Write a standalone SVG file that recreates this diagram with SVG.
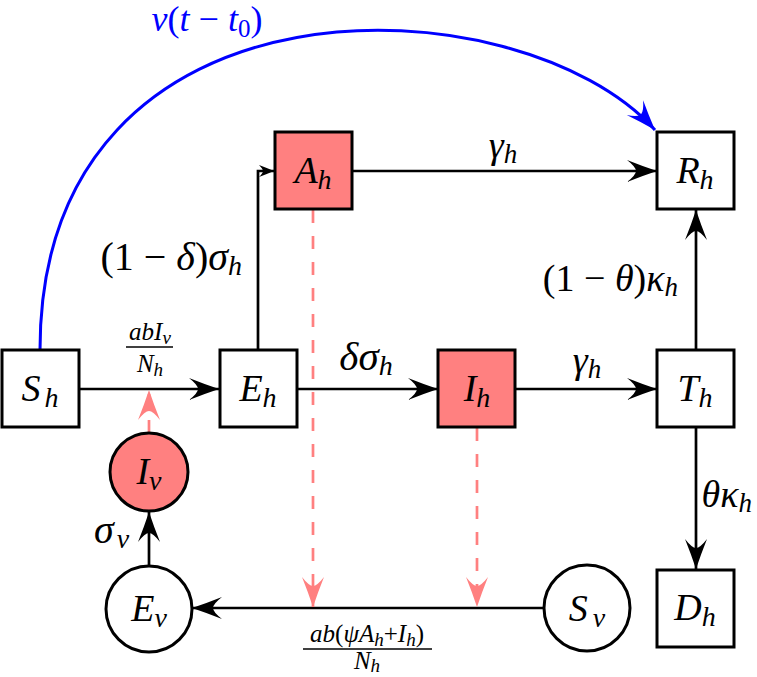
<svg xmlns="http://www.w3.org/2000/svg" width="757" height="677" viewBox="0 0 757 677" font-family="'Liberation Serif','Times New Roman',serif">
<style>
.box{fill:#fff;stroke:#000;stroke-width:3}
.inf{fill:#FF8080}
text{font-family:'Liberation Serif','Times New Roman',serif;font-style:italic}
.t{font-size:38px;fill:#000}
.l{font-size:38px;fill:#000}
.f{font-size:25px;fill:#000}
.u{font-style:normal}
.e{fill:none;stroke:#000;stroke-width:2.7}
.d{fill:none;stroke:#FF8080;stroke-width:2.7;stroke-dasharray:13 13}
.b{fill:none;stroke:#0000FF;stroke-width:3}
</style>
<defs>
<marker id="ak" markerUnits="userSpaceOnUse" markerWidth="32" markerHeight="24" refX="30" refY="11" orient="auto" overflow="visible">
<path d="M30,11 Q15,6 0,0 Q9,7 9,11 Q9,15 0,22 Q15,16 30,11 Z" fill="#000"/>
</marker>
<marker id="ap" markerUnits="userSpaceOnUse" markerWidth="32" markerHeight="24" refX="30" refY="11" orient="auto" overflow="visible">
<path d="M30,11 Q15,6 0,0 Q9,7 9,11 Q9,15 0,22 Q15,16 30,11 Z" fill="#FF8080"/>
</marker>
<marker id="ab" markerUnits="userSpaceOnUse" markerWidth="32" markerHeight="24" refX="30" refY="11" orient="auto" overflow="visible">
<path d="M30,11 Q15,6 0,0 Q9,7 9,11 Q9,15 0,22 Q15,16 30,11 Z" fill="#0000FF"/>
</marker>
<marker id="as" markerUnits="userSpaceOnUse" markerWidth="16" markerHeight="14" refX="15" refY="6" orient="auto" overflow="visible">
<path d="M15,6 Q8,3 0,0 Q4,4 4,6 Q4,8 0,12 Q8,9 15,6 Z" fill="#000"/>
</marker>
</defs>

<g id="connectors">
<path class="b" d="M40,350 C40,-40 520,-20 655,130" marker-end="url(#ab)"/>
<path class="e" d="M78,389 H219" marker-end="url(#ak)"/>
<path class="e" d="M258,350 V171 H274" marker-end="url(#as)"/>
<path class="e" d="M298,389 H438" marker-end="url(#ak)"/>
<path class="e" d="M516,389 H657" marker-end="url(#ak)"/>
<path class="e" d="M353,171 H657" marker-end="url(#ak)"/>
<path class="e" d="M696,350 V210" marker-end="url(#ak)"/>
<path class="e" d="M696,428 V569" marker-end="url(#ak)"/>
<path class="e" d="M543,608 H192" marker-end="url(#ak)"/>
<path class="e" d="M149,566 V512" marker-end="url(#ak)"/>
<path class="d" d="M149,433 V390" marker-end="url(#ap)"/>
<path class="d" d="M313,210 V607" marker-end="url(#ap)"/>
<path class="d" d="M477,428 V607" marker-end="url(#ap)"/>
</g>

<g id="labels">
<text class="l" x="207" y="31" text-anchor="middle" style="fill:#0000FF;font-size:36px">v<tspan class="u">(</tspan>t<tspan class="u"> − </tspan>t<tspan class="u" style="font-size:25px" dy="6">0</tspan><tspan class="u" dy="-6">)</tspan></text>
<text class="l" x="503" y="158" text-anchor="middle">γ<tspan style="font-size:27px" dy="5">h</tspan></text>
<text class="l" x="242" y="270" text-anchor="end" style="font-size:40px"><tspan class="u">(1 − </tspan>δ<tspan class="u">)</tspan>σ<tspan style="font-size:28px" dy="5">h</tspan></text>
<text class="f" x="150" y="340" text-anchor="middle">abI<tspan style="font-size:19px" dy="4">v</tspan></text>
<line x1="126" y1="347" x2="173" y2="347" stroke="#000" stroke-width="1.6"/>
<text class="f" x="150" y="372" text-anchor="middle">N<tspan style="font-size:19px" dy="4">h</tspan></text>
<text class="l" x="366" y="370" text-anchor="middle" style="font-size:41px">δσ<tspan style="font-size:28px" dy="5">h</tspan></text>
<text class="l" x="587" y="373" text-anchor="middle">γ<tspan style="font-size:27px" dy="5">h</tspan></text>
<text class="l" x="678" y="291" text-anchor="end"><tspan class="u">(1 − </tspan>θ<tspan class="u">)</tspan>κ<tspan style="font-size:27px" dy="5">h</tspan></text>
<text class="l" x="752" y="507" text-anchor="end">θκ<tspan style="font-size:27px" dy="5">h</tspan></text>
<text class="l" x="94" y="543" style="font-size:40px">σ<tspan style="font-size:28px" dy="5" dx="3">v</tspan></text>
<text class="f" x="367" y="642" text-anchor="middle">ab<tspan class="u">(</tspan>ψA<tspan style="font-size:19px" dy="4">h</tspan><tspan class="u" dy="-4">+</tspan>I<tspan style="font-size:19px" dy="4">h</tspan><tspan class="u" dy="-4">)</tspan></text>
<line x1="303" y1="649" x2="432" y2="649" stroke="#000" stroke-width="1.6"/>
<text class="f" x="367" y="669" text-anchor="middle">N<tspan style="font-size:19px" dy="3">h</tspan></text>
</g>

<g id="Sh"><rect class="box" x="2" y="350" width="77" height="77"/><text class="t" x="40" y="401" text-anchor="middle">S<tspan style="font-size:28px" dy="6" dx="4">h</tspan></text></g>
<g id="Eh"><rect class="box" x="220" y="350" width="77" height="77"/><text class="t" x="258" y="401" text-anchor="middle">E<tspan style="font-size:28px" dy="6">h</tspan></text></g>
<g id="Ih"><rect class="box inf" x="438" y="350" width="77" height="77"/><text class="t" x="477" y="401" text-anchor="middle">I<tspan style="font-size:28px" dy="6">h</tspan></text></g>
<g id="Th"><rect class="box" x="657" y="350" width="77" height="77"/><text class="t" x="695" y="401" text-anchor="middle">T<tspan style="font-size:28px" dy="6">h</tspan></text></g>
<g id="Ah"><rect class="box inf" x="275" y="132" width="77" height="77"/><text class="t" x="313" y="183" text-anchor="middle">A<tspan style="font-size:28px" dy="6">h</tspan></text></g>
<g id="Rh"><rect class="box" x="657" y="132" width="77" height="77"/><text class="t" x="695" y="183" text-anchor="middle">R<tspan style="font-size:28px" dy="6">h</tspan></text></g>
<g id="Dh"><rect class="box" x="657" y="570" width="77" height="77"/><text class="t" x="695" y="620" text-anchor="middle">D<tspan style="font-size:28px" dy="6">h</tspan></text></g>
<g id="Iv"><circle class="box inf" cx="149" cy="472" r="39"/><text class="t" x="149" y="484" text-anchor="middle">I<tspan style="font-size:28px" dy="6">v</tspan></text></g>
<g id="Ev"><circle class="box" cx="149" cy="609" r="43"/><text class="t" x="149" y="621" text-anchor="middle">E<tspan style="font-size:28px" dy="6">v</tspan></text></g>
<g id="Sv"><circle class="box" cx="587" cy="608" r="43"/><text class="t" x="587" y="621" text-anchor="middle">S<tspan style="font-size:28px" dy="6" dx="5">v</tspan></text></g>
</svg>
